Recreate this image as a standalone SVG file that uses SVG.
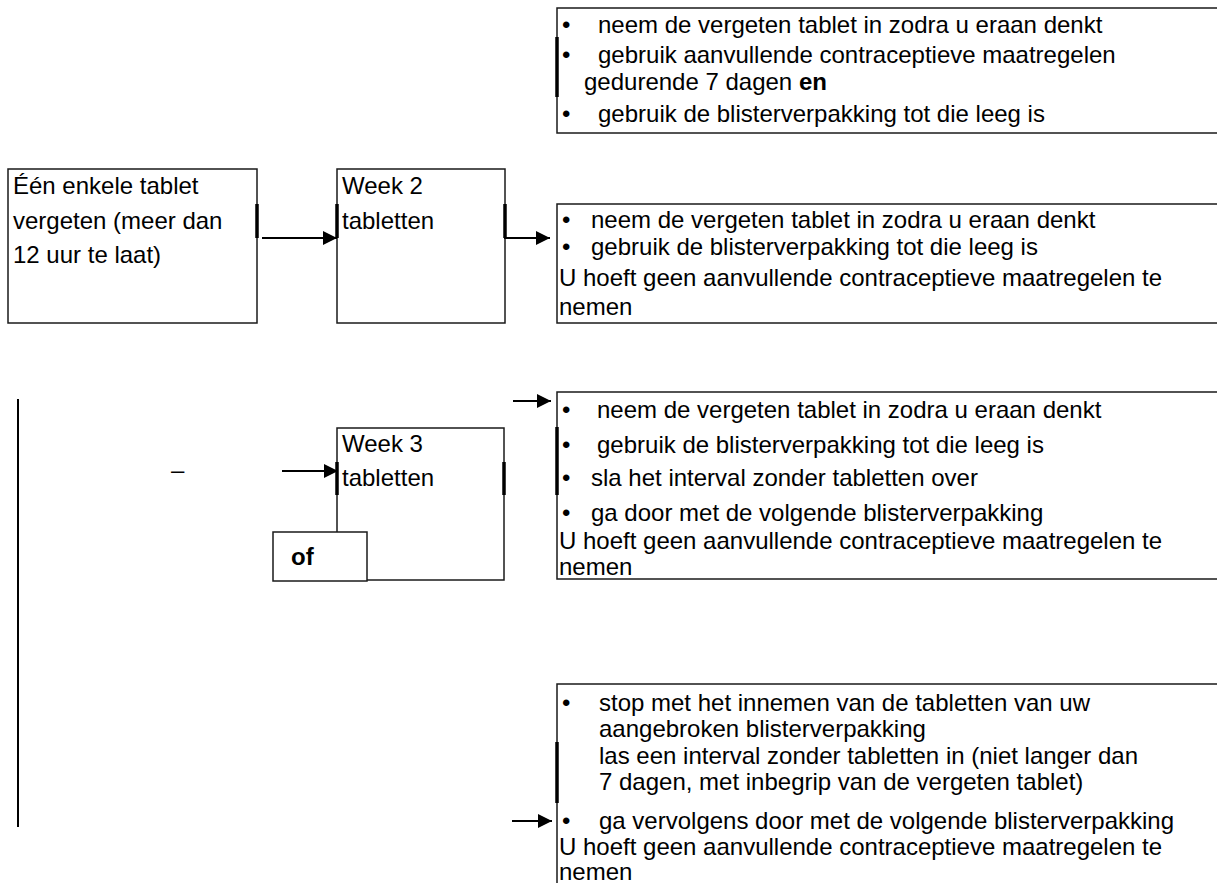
<svg xmlns="http://www.w3.org/2000/svg" width="1217" height="883" viewBox="0 0 1217 883">
<style>
  .box{fill:#fff;stroke:#1a1a1a;stroke-width:1.5}
  .thick{stroke:#000;stroke-width:3.5}
  .t{font-family:"Liberation Sans",Arial,sans-serif;font-size:24px;fill:#000}
  .b{font-weight:bold}
  .conn{stroke:#000;stroke-width:2;fill:none}
</style>
<defs>
  <marker id="arr" markerUnits="userSpaceOnUse" markerWidth="15" markerHeight="14" refX="14" refY="7" orient="auto">
    <path d="M0,0 L14,7 L0,14 z" fill="#000"/>
  </marker>
</defs>
<rect width="1217" height="883" fill="#fff"/>

<g id="vertical-bar">
  <line class="conn" x1="18" y1="399" x2="18" y2="827"/>
</g>

<g id="node-top">
  <rect class="box" x="557" y="8" width="700" height="125"/>
  <line class="thick" x1="557" y1="37" x2="557" y2="97"/>
  <text class="t" x="562" y="33">•</text><text class="t" x="598" y="33">neem de vergeten tablet in zodra u eraan denkt</text>
  <text class="t" x="562" y="63">•</text>
  <text class="t" x="598" y="63">gebruik aanvullende contraceptieve maatregelen<tspan x="584" y="90">gedurende 7 dagen </tspan><tspan class="b">en</tspan></text>
  <text class="t" x="562" y="122">•</text><text class="t" x="598" y="122">gebruik de blisterverpakking tot die leeg is</text>
</g>

<g id="node-start">
  <rect class="box" x="8" y="169" width="249" height="154"/>
  <line class="thick" x1="257" y1="204" x2="257" y2="238"/>
  <text class="t" x="13" y="194">Één enkele tablet<tspan x="13" y="229">vergeten (meer dan</tspan><tspan x="13" y="263">12 uur te laat)</tspan></text>
</g>

<g id="node-week2">
  <rect class="box" x="337" y="169" width="168" height="154"/>
  <line class="thick" x1="337" y1="204" x2="337" y2="238"/>
  <line class="thick" x1="505" y1="204" x2="505" y2="238"/>
  <text class="t" x="342" y="194">Week 2<tspan x="342" y="229">tabletten</tspan></text>
</g>

<g id="node-week2-advice">
  <rect class="box" x="557" y="204" width="700" height="119"/>
  <text class="t" x="562" y="228">•</text><text class="t" x="591" y="228">neem de vergeten tablet in zodra u eraan denkt</text>
  <text class="t" x="562" y="255">•</text><text class="t" x="591" y="255">gebruik de blisterverpakking tot die leeg is</text>
  <text class="t" x="559" y="286">U hoeft geen aanvullende contraceptieve maatregelen te<tspan x="559" y="315">nemen</tspan></text>
</g>

<g id="node-week3">
  <rect class="box" x="337" y="428" width="167" height="152"/>
  <line class="thick" x1="337" y1="462" x2="337" y2="495"/>
  <line class="thick" x1="504" y1="462" x2="504" y2="495"/>
  <text class="t" x="342" y="452">Week 3<tspan x="342" y="486">tabletten</tspan></text>
</g>

<g id="node-of">
  <rect class="box" x="273" y="532" width="94" height="49"/>
  <text class="t b" x="291" y="565">of</text>
</g>

<g id="node-dash">
  <text class="t" x="171" y="478">–</text>
</g>

<g id="node-week3-advice-a">
  <rect class="box" x="557" y="392" width="700" height="187"/>
  <line class="thick" x1="557" y1="427" x2="557" y2="495"/>
  <text class="t" x="562" y="418">•</text><text class="t" x="597" y="418">neem de vergeten tablet in zodra u eraan denkt</text>
  <text class="t" x="562" y="453">•</text><text class="t" x="597" y="453">gebruik de blisterverpakking tot die leeg is</text>
  <text class="t" x="562" y="486">•</text><text class="t" x="591" y="486">sla het interval zonder tabletten over</text>
  <text class="t" x="562" y="521">•</text>
  <text class="t" x="591" y="521">ga door met de volgende blisterverpakking<tspan x="559" y="549">U hoeft geen aanvullende contraceptieve maatregelen te</tspan><tspan x="559" y="575">nemen</tspan></text>
</g>

<g id="node-week3-advice-b">
  <rect class="box" x="557" y="684" width="700" height="230"/>
  <line class="thick" x1="557" y1="742" x2="557" y2="803"/>
  <text class="t" x="562" y="711">•</text>
  <text class="t" x="599" y="711">stop met het innemen van de tabletten van uw<tspan x="599" y="737">aangebroken blisterverpakking</tspan><tspan x="599" y="764">las een interval zonder tabletten in (niet langer dan</tspan><tspan x="599" y="790">7 dagen, met inbegrip van de vergeten tablet)</tspan></text>
  <text class="t" x="562" y="829">•</text>
  <text class="t" x="599" y="829">ga vervolgens door met de volgende blisterverpakking<tspan x="559" y="855">U hoeft geen aanvullende contraceptieve maatregelen te</tspan><tspan x="559" y="880">nemen</tspan></text>
</g>

<g id="connectors">
  <line class="conn" x1="262" y1="238" x2="337" y2="238" marker-end="url(#arr)"/>
  <line class="conn" x1="504" y1="238" x2="550" y2="238" marker-end="url(#arr)"/>
  <line class="conn" x1="513" y1="401" x2="551" y2="401" marker-end="url(#arr)"/>
  <line class="conn" x1="282" y1="471" x2="338" y2="471" marker-end="url(#arr)"/>
  <line class="conn" x1="512" y1="821" x2="552" y2="821" marker-end="url(#arr)"/>
</g>
</svg>
